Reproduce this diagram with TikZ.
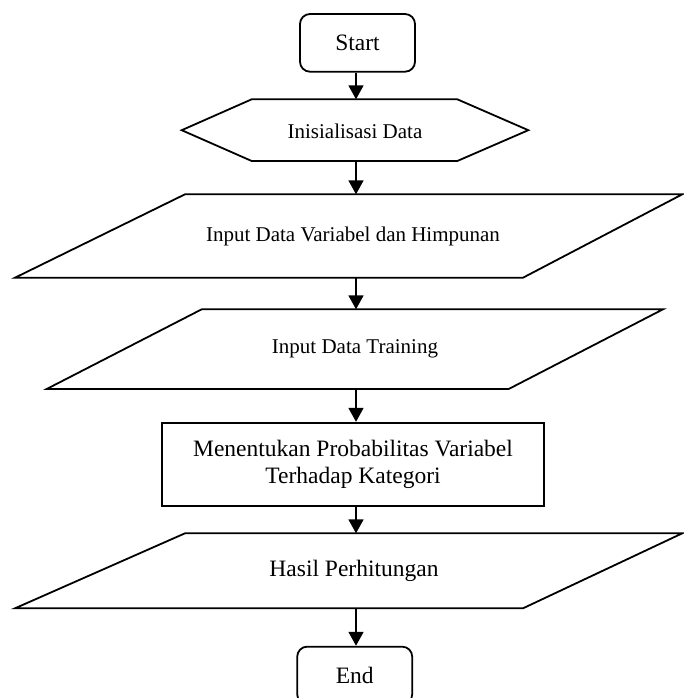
\documentclass[tikz,border=0pt]{standalone}
\usepackage{fontspec}
\setmainfont{Liberation Serif}
\usetikzlibrary{arrows.meta}
\begin{document}
\begin{tikzpicture}[x=1pt,y=-1pt,
  line width=1.8pt,
  shapeline/.style={draw=black,line width=1.8pt,line join=miter},
  bigtxt/.style={font=\fontsize{23.5}{27}\selectfont,align=center,inner sep=0pt},
  smalltxt/.style={font=\fontsize{21}{24}\selectfont,align=center,inner sep=0pt},
  termbox/.style={draw=black,line width=1.8pt,rounded corners=10pt,minimum width=115pt,minimum height=57.7pt,inner sep=0pt,font=\fontsize{23.5}{27}\selectfont},
  procbox/.style={draw=black,line width=1.8pt,minimum width=382.6pt,minimum height=83.3pt,inner sep=0pt,align=center,font=\fontsize{23.5}{27}\selectfont},
  arr/.style={-{Triangle[length=14pt,width=15pt]},line width=1.8pt}]
\useasboundingbox (0,0) rectangle (683,698);
% terminal Start
\node[termbox] (start) at (357.5,42.85) {Start};
% hexagon
\draw[shapeline] (181.7,130.2) -- (251.7,99.3) -- (457.3,99.3) -- (528.3,130.2) -- (457.3,161) -- (251.7,161) -- cycle;
\node[smalltxt] (hex) at (355,131) {Inisialisasi Data};
\coordinate (hexT) at (356,99.3);
\coordinate (hexB) at (356,161);
% parallelogram 1
\draw[shapeline] (185,194.3) -- (682.3,194.3) -- (523,277.7) -- (15,277.7) -- cycle;
\node[smalltxt] (in1) at (353,236) {Input Data Variabel dan Himpunan};
\coordinate (p1T) at (356,194.3);
\coordinate (p1B) at (356,277.7);
% parallelogram 2
\draw[shapeline] (201.7,309.3) -- (663,309.3) -- (508.7,389) -- (46.7,389) -- cycle;
\node[smalltxt] (in2) at (355,349) {Input Data Training};
\coordinate (p2T) at (356,309.3);
\coordinate (p2B) at (356,389);
% process
\node[procbox] (proc) at (353,464.35) {Menentukan Probabilitas Variabel\\Terhadap Kategori};
% parallelogram 3
\draw[shapeline] (185,533.3) -- (682.3,533.3) -- (523,608.3) -- (15,608.3) -- cycle;
\node[bigtxt] (out) at (354,571) {Hasil Perhitungan};
\coordinate (p3T) at (356,533.3);
\coordinate (p3B) at (356,608.3);
% terminal End
\node[termbox] (end) at (354.7,675.5) {End};
% connectors
\draw[arr] (start.south -| hexT) -- (hexT);
\draw[arr] (hexB) -- (p1T);
\draw[arr] (p1B) -- (p2T);
\draw[arr] (p2B) -- (proc.north -| p2B);
\draw[arr] (proc.south -| p3T) -- (p3T);
\draw[arr] (p3B) -- (end.north -| p3B);
\end{tikzpicture}
\end{document}
